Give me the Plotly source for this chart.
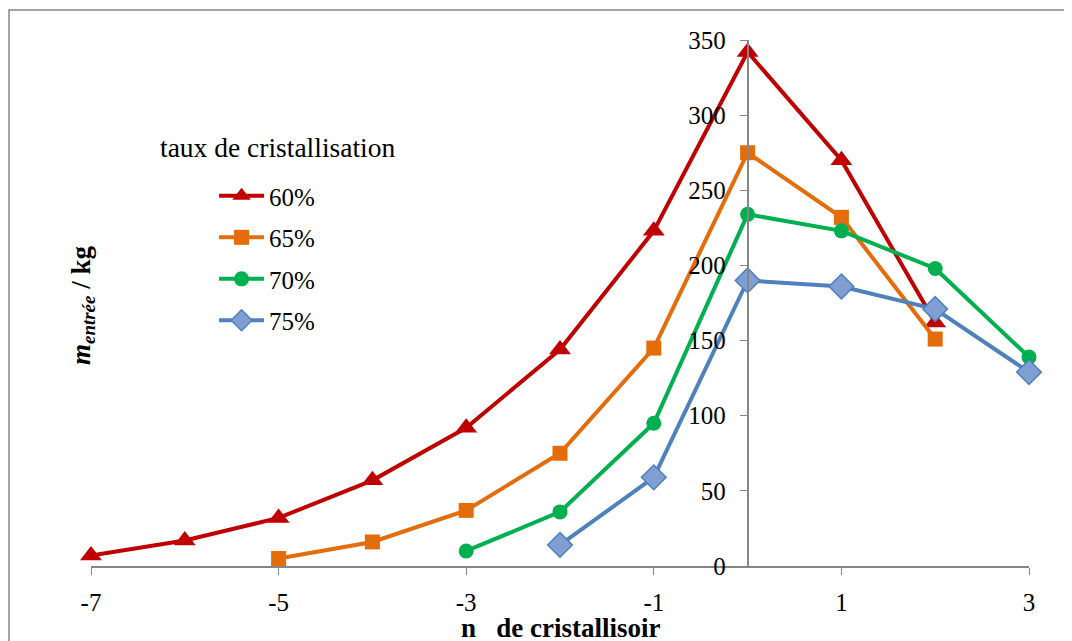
import plotly.graph_objects as go

x60 = [-7, -6, -5, -4, -3, -2, -1, 0, 1, 2]
y60 = [7, 17, 32, 57, 92, 144, 223, 342, 270, 162]
x65 = [-5, -4, -3, -2, -1, 0, 1, 2]
y65 = [5, 16, 37, 75, 145, 275, 232, 151]
x70 = [-3, -2, -1, 0, 1, 2, 3]
y70 = [10, 36, 95, 234, 223, 198, 139]
x75 = [-2, -1, 0, 1, 2, 3]
y75 = [14, 59, 190, 186, 171, 129]

names = ["60%", "65%", "70%", "75%"]
tick_vals = [-7, -5, -3, -1, 1, 3]
tick_text = ["-7", "-5", "-3", "-1", "1", "3"]
y_ticks = [0, 50, 100, 150, 200, 250, 300, 350]

FONT = "Liberation Serif"

series = [
    (x60, y60, names[0], "#C00000", dict(symbol="triangle-up", size=19, color="#C00000")),
    (x65, y65, names[1], "#E46C0A", dict(symbol="square", size=15, color="#E46C0A")),
    (x70, y70, names[2], "#00B050", dict(symbol="circle", size=15, color="#00B050")),
    (x75, y75, names[3], "#4F81BD", dict(symbol="diamond", size=19, color="#7F9FD3",
                                          line=dict(color="#4F81BD", width=1.5))),
]

fig = go.Figure()
for xs, ys, nm, col, mk in series:
    fig.add_trace(go.Scatter(
        x=xs, y=ys, name=nm, mode="lines+markers",
        line=dict(color=col, width=4), marker=mk,
        legendgroup=nm, cliponaxis=False,
    ))

fig.update_layout(
    width=1072, height=641,
    margin=dict(l=83, r=51, t=32, b=83),
    paper_bgcolor="white", plot_bgcolor="white",
    font=dict(family=FONT, size=25, color="black"),
    showlegend=True,
    legend=dict(x=0.1312, y=0.747, xanchor="left", yanchor="top",
                font=dict(family=FONT, size=25, color="black"),
                tracegroupgap=6, itemwidth=45, bgcolor="rgba(0,0,0,0)"),
    xaxis=dict(range=[-7, 3], tickvals=tick_vals, ticktext=tick_text,
               showgrid=False, zeroline=False,
               showline=True, linecolor="#868686", linewidth=1.5,
               ticks="outside", ticklen=7, tickcolor="#868686",
               ticklabelstandoff=6,
               tickfont=dict(family=FONT, size=25)),
    yaxis=dict(range=[0, 350], tickvals=y_ticks, showgrid=False, zeroline=False,
               showline=True, linecolor="#868686", linewidth=1.5,
               ticks="outside", ticklen=7, tickcolor="#868686",
               ticklabelstandoff=9,
               anchor="free", position=0.7,
               tickfont=dict(family=FONT, size=25)),
)

fig.add_annotation(
    text="<b><i>m</i></b><sub><b><i>entrée</i></b></sub><b> / kg</b>",
    xref="paper", yref="paper", x=-0.029, y=0.496, textangle=-90,
    showarrow=False, font=dict(family=FONT, size=27),
)
fig.add_annotation(
    text="<b>n   de cristallisoir</b>",
    xref="paper", yref="paper", x=0.5, y=-0.118, yanchor="middle",
    showarrow=False, font=dict(family=FONT, size=27),
)
fig.add_annotation(
    text="taux de cristallisation", xref="paper", yref="paper",
    x=0.071, y=0.796, xanchor="left", yanchor="middle",
    showarrow=False, font=dict(family=FONT, size=27.5),
)
fig.add_shape(type="rect", xref="paper", yref="paper",
              x0=(9 - 91) / 938, x1=1.08, y0=-0.25, y1=(566 - 10) / 526,
              line=dict(color="#868686", width=1.5), layer="below")

fig.write_html("out.html")
